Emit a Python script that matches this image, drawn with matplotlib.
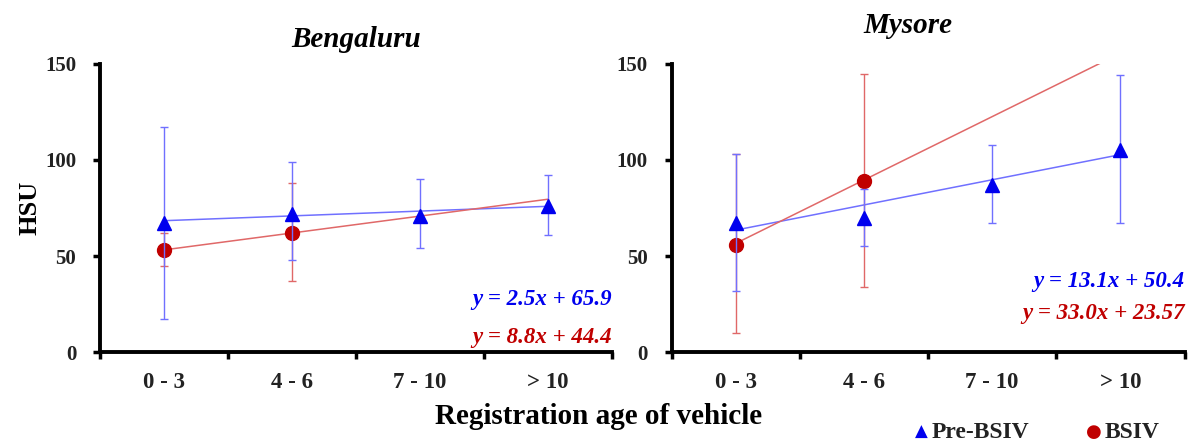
import numpy as np
import matplotlib
matplotlib.use('Agg')
import matplotlib.pyplot as plt

plt.rcParams['font.family'] = ['Liberation Serif', 'DejaVu Serif']

# categories (registration age, years)
categories = ['0 - 3', '4 - 6', '7 - 10', '> 10']

# Bengaluru
blr_pre = [67, 72, 71, 76]
blr_pre_hi = [117, 99, 90, 92]
blr_pre_lo = [17, 48, 54, 61]
blr_bs = [53, 62]
blr_bs_hi = [62, 88]
blr_bs_lo = [45, 37]
blr_fit_pre = (2.5, 65.9)
blr_fit_bs = (8.8, 44.4)

# Mysore
mys_pre = [67, 70, 87, 105]
mys_pre_hi = [103, 85, 108, 144]
mys_pre_lo = [32, 55, 67, 67]
mys_bs = [56, 89]
mys_bs_hi = [103, 145]
mys_bs_lo = [10, 34]
mys_fit_pre = (13.1, 50.4)
mys_fit_bs = (33.0, 23.57)

blue = '#0000ee'
blue_line = '#7070ff'
red = '#c00000'
red_line = '#e06868'


def draw_panel(ax, pre, pre_hi, pre_lo, bs, bs_hi, bs_lo, fit_pre, fit_bs, eq_pos):
    x = np.arange(len(categories))
    xb = np.arange(len(bs))
    # trendlines over x = 1..4 (category index + 1)
    xf = np.linspace(1, 4, 50)
    ax.plot(xf - 1, fit_pre[0] * xf + fit_pre[1], color=blue_line, lw=1.1, zorder=2)
    ax.plot(xf - 1, fit_bs[0] * xf + fit_bs[1], color=red_line, lw=1.1, zorder=2)
    pre = np.array(pre)
    bs = np.array(bs)
    ax.errorbar(xb, bs, yerr=[bs - np.array(bs_lo), np.array(bs_hi) - bs], fmt='o',
                color=red, ecolor=red_line, elinewidth=1, capsize=3, ms=10, zorder=3)
    ax.errorbar(x, pre, yerr=[pre - np.array(pre_lo), np.array(pre_hi) - pre], fmt='^',
                color=blue, ecolor=blue_line, elinewidth=1, capsize=3, ms=10, zorder=4)
    ax.set_xlim(-0.5, 3.5)
    ax.set_ylim(0, 150)
    ax.set_yticks([0, 50, 100, 150])
    ax.set_xticks(x)
    ax.set_xticklabels(categories)
    ax.set_xticks(np.arange(-0.5, 4, 1), minor=True)
    ax.tick_params(axis='x', which='major', length=0, pad=14, labelsize=16.5)
    ax.tick_params(axis='x', which='minor', length=5, width=2.5, direction='out')
    ax.tick_params(axis='y', length=5, width=2.5, direction='out', labelsize=15, pad=12)
    for lab in ax.get_xticklabels() + ax.get_yticklabels():
        lab.set_fontweight('bold')
        lab.set_color('#222222')
    for side in ['top', 'right']:
        ax.spines[side].set_visible(False)
    for side in ['left', 'bottom']:
        ax.spines[side].set_linewidth(2.8)
    ex, ey1, ey2 = eq_pos
    ax.text(ex, ey1, 'y = %.1fx + %s' % (fit_pre[0], str(fit_pre[1])), color=blue,
            fontsize=16.5, fontweight='bold', style='italic', ha='right', transform=ax.transAxes)
    bs_b = ('%.2f' % fit_bs[1]).rstrip('0').rstrip('.')
    ax.text(ex, ey2, 'y = %.1fx + %s' % (fit_bs[0], bs_b), color=red,
            fontsize=16.5, fontweight='bold', style='italic', ha='right', transform=ax.transAxes)


fig = plt.figure(figsize=(11.97, 4.44), dpi=100)
ax1 = fig.add_axes([0.0835, 0.207, 0.428, 0.649])
ax2 = fig.add_axes([0.561, 0.207, 0.4286, 0.649])

draw_panel(ax1, blr_pre, blr_pre_hi, blr_pre_lo, blr_bs, blr_bs_hi, blr_bs_lo,
           blr_fit_pre, blr_fit_bs, (1.0, 0.165, 0.03))
draw_panel(ax2, mys_pre, mys_pre_hi, mys_pre_lo, mys_bs, mys_bs_hi, mys_bs_lo,
           mys_fit_pre, mys_fit_bs, (1.0, 0.225, 0.115))
ax1.set_title('Bengaluru', fontsize=21, fontweight='bold', style='italic', pad=12, x=0.5)
ax2.set_title('Mysore', fontsize=21, fontweight='bold', style='italic', pad=22, x=0.46)

ax1.set_ylabel('HSU', fontsize=19, fontweight='bold', labelpad=3)
fig.text(0.5, 0.045, 'Registration age of vehicle', fontsize=21, fontweight='bold', ha='center')

# legend
fig.text(0.764, 0.027, '\u25b2', color=blue, fontsize=12, ha='left', va='center', family='DejaVu Sans')
fig.text(0.778, 0.027, 'Pre-BSIV', color='#222222', fontsize=17, fontweight='bold', va='center')
fig.text(0.907, 0.027, '\u25cf', color=red, fontsize=13, ha='left', va='center', family='DejaVu Sans')
fig.text(0.923, 0.027, 'BSIV', color='#222222', fontsize=17, fontweight='bold', va='center')

fig.savefig('out.png', dpi=100)
